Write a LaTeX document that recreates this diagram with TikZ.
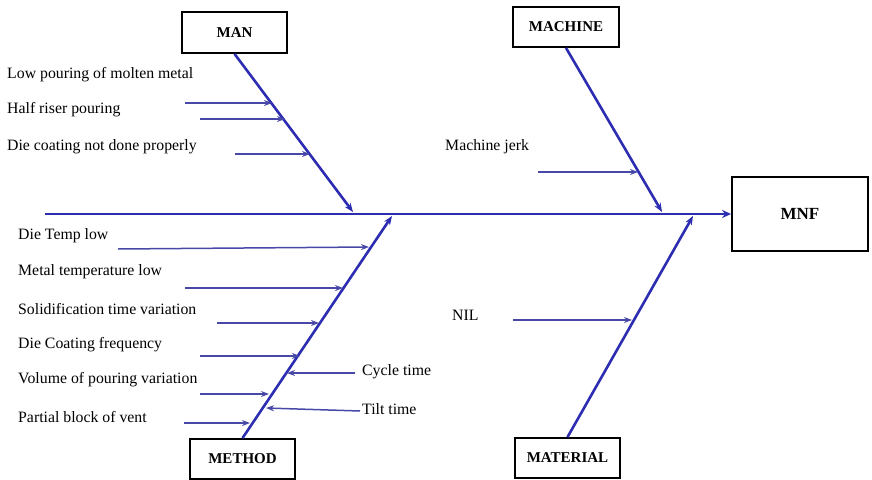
\documentclass[tikz,border=0pt]{standalone}
\usepackage{fontspec}
\setmainfont{Liberation Serif}
\usetikzlibrary{arrows.meta}
\definecolor{bonec}{RGB}{45,45,178}
\definecolor{twigc}{RGB}{72,72,168}
\tikzset{
  catbox/.style={draw=black, line width=1.8pt, fill=white, inner sep=0pt, font=\fontsize{15}{17}\selectfont\bfseries},
  effbox/.style={draw=black, line width=1.8pt, fill=white, inner sep=0pt, font=\fontsize{17}{19}\selectfont\bfseries},
  cause/.style={anchor=west, inner sep=0pt, font=\fontsize{15.8}{17}\selectfont},
  bone/.style={draw=bonec, line width=2.6pt, -{Stealth[length=9pt,width=7pt]}},
  spine/.style={draw=bonec, line width=2.6pt, -{Stealth[length=9pt,width=8pt]}},
  twig/.style={draw=twigc, line width=1.5pt, -{Stealth[length=8pt,width=6pt]}}
}
\begin{document}
\begin{tikzpicture}[x=1pt,y=-1pt]
\useasboundingbox (0,0) rectangle (872,479);
% boxes
\node[catbox, minimum width=105pt, minimum height=41pt] (man) at (234.5,32.5) {MAN};
\node[catbox, minimum width=106pt, minimum height=40pt] (machine) at (566,27) {MACHINE};
\node[catbox, minimum width=105pt, minimum height=40pt] (method) at (242.5,459) {METHOD};
\node[catbox, minimum width=105pt, minimum height=40pt] (material) at (567.5,458) {MATERIAL};
\node[effbox, minimum width=136pt, minimum height=74pt] (mnf) at (800,214) {MNF};
% spine
\coordinate (spineS) at (45,214);
\draw[spine] (spineS) -- (mnf.west);
% bone tips
\coordinate (manT) at (353,212);
\coordinate (machT) at (662,212);
\coordinate (methT) at (392,216);
\coordinate (matT) at (693,216);
\draw[bone] (man.south) -- (manT);
\draw[bone] (machine.south) -- (machT);
\draw[bone] (method.north) -- (methT);
\draw[bone] (material.north) -- (matT);
% MAN causes
\node[cause] (c1) at (7,75) {Low pouring of molten metal};
\node[cause] (c2) at (7,110) {Half riser pouring};
\node[cause] (c3) at (7,147) {Die coating not done properly};
\coordinate (a1s) at (185,103); \coordinate (a1e) at (272,103);
\coordinate (a2s) at (200,119); \coordinate (a2e) at (285,119);
\coordinate (a3s) at (235,154); \coordinate (a3e) at (310,154);
\draw[twig] (a1s) -- (a1e);
\draw[twig] (a2s) -- (a2e);
\draw[twig] (a3s) -- (a3e);
% MACHINE cause
\node[cause] (c4) at (445,147) {Machine jerk};
\coordinate (a4s) at (538,172); \coordinate (a4e) at (638,172);
\draw[twig] (a4s) -- (a4e);
% METHOD causes
\node[cause] (m1) at (18,236) {Die Temp low};
\node[cause] (m2) at (18,272) {Metal temperature low};
\node[cause] (m3) at (18,309) {Solidification time variation};
\node[cause] (m4) at (18,345) {Die Coating frequency};
\node[cause] (m5) at (18,380) {Volume of pouring variation};
\node[cause] (m6) at (18,417) {Partial block of vent};
\coordinate (b1s) at (118,249); \coordinate (b1e) at (369,247);
\coordinate (b2s) at (185,288); \coordinate (b2e) at (343,288);
\coordinate (b3s) at (217,323); \coordinate (b3e) at (319,323);
\coordinate (b4s) at (200,356); \coordinate (b4e) at (300,356);
\coordinate (b5s) at (200,394); \coordinate (b5e) at (269,394);
\coordinate (b6s) at (184,423); \coordinate (b6e) at (250,423);
\draw[twig] (b1s) -- (b1e);
\draw[twig] (b2s) -- (b2e);
\draw[twig] (b3s) -- (b3e);
\draw[twig] (b4s) -- (b4e);
\draw[twig] (b5s) -- (b5e);
\draw[twig] (b6s) -- (b6e);
\node[cause] (m7) at (362,372) {Cycle time};
\node[cause] (m8) at (362,409) {Tilt time};
\coordinate (b7s) at (355,373); \coordinate (b7e) at (287,373);
\coordinate (b8s) at (360,411); \coordinate (b8e) at (266,408);
\draw[twig] (b7s) -- (b7e);
\draw[twig] (b8s) -- (b8e);
% MATERIAL cause
\node[cause] (n1) at (452,315) {NIL};
\coordinate (a5s) at (513,320); \coordinate (a5e) at (632,320);
\draw[twig] (a5s) -- (a5e);
\end{tikzpicture}
\end{document}
